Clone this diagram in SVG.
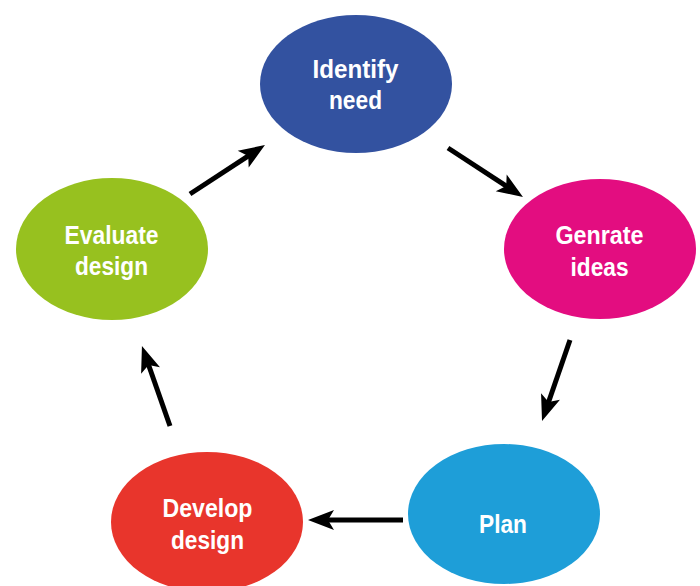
<svg xmlns="http://www.w3.org/2000/svg" width="700" height="586" viewBox="0 0 700 586">
  <style>
    .lbl { font-family: "Liberation Sans", Arial, sans-serif; font-weight: bold; font-size: 26px; fill: #ffffff; text-anchor: middle; }
    .arrow { stroke: #000000; stroke-width: 5; fill: none; marker-end: url(#head); }
  </style>
  <defs>
    <marker id="head" markerUnits="userSpaceOnUse" markerWidth="30" markerHeight="24" viewBox="0 -12 28 24" refX="8" refY="0" orient="auto">
      <path d="M26,0 L0,-10 L6,0 L0,10 Z" fill="#000000"/>
    </marker>
  </defs>
  <rect width="700" height="586" fill="#ffffff"/>

  <g id="identify-need">
    <ellipse cx="356" cy="84" rx="96" ry="69" fill="#3352a0"/>
    <text class="lbl" x="355.5" y="78" textLength="86" lengthAdjust="spacingAndGlyphs">Identify</text>
    <text class="lbl" x="355.5" y="109" textLength="53" lengthAdjust="spacingAndGlyphs">need</text>
  </g>

  <g id="genrate-ideas">
    <ellipse cx="600" cy="249" rx="96" ry="70" fill="#e30d80"/>
    <text class="lbl" x="599.5" y="244" textLength="88" lengthAdjust="spacingAndGlyphs">Genrate</text>
    <text class="lbl" x="599.5" y="276" textLength="58" lengthAdjust="spacingAndGlyphs">ideas</text>
  </g>

  <g id="plan">
    <ellipse cx="504" cy="514" rx="96" ry="70" fill="#1e9ed8"/>
    <text class="lbl" x="503" y="533" textLength="48" lengthAdjust="spacingAndGlyphs">Plan</text>
  </g>

  <g id="develop-design">
    <ellipse cx="207" cy="522" rx="96" ry="70" fill="#e8352c"/>
    <text class="lbl" x="207.5" y="517" textLength="90" lengthAdjust="spacingAndGlyphs">Develop</text>
    <text class="lbl" x="207.5" y="549" textLength="73" lengthAdjust="spacingAndGlyphs">design</text>
  </g>

  <g id="evaluate-design">
    <ellipse cx="112" cy="249" rx="96" ry="71" fill="#97c11f"/>
    <text class="lbl" x="111.5" y="244" textLength="94" lengthAdjust="spacingAndGlyphs">Evaluate</text>
    <text class="lbl" x="111.5" y="275" textLength="73" lengthAdjust="spacingAndGlyphs">design</text>
  </g>

  <g id="connectors">
    <line class="arrow" x1="190" y1="194" x2="249.9" y2="154.8"/>
    <line class="arrow" x1="448" y1="148" x2="507.9" y2="187.2"/>
    <line class="arrow" x1="570" y1="340" x2="547.9" y2="404"/>
    <line class="arrow" x1="403" y1="520" x2="326" y2="520"/>
    <line class="arrow" x1="170" y1="426" x2="147.9" y2="363"/>
  </g>
</svg>
